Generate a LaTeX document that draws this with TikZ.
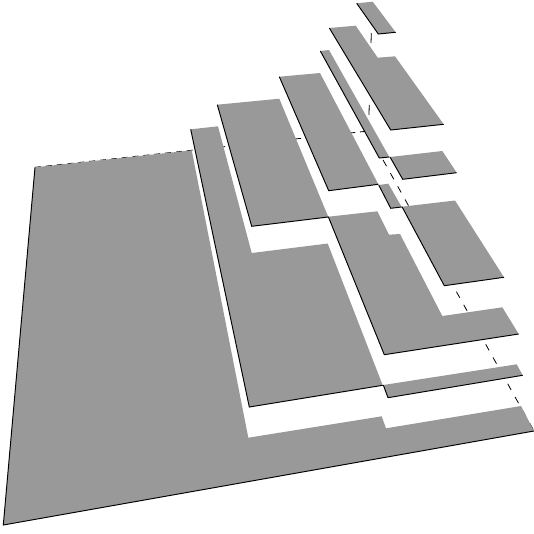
\documentclass[tikz,border=0pt]{standalone}
\usepackage{tikz}
\definecolor{slab}{HTML}{999999}
\begin{document}
\begin{tikzpicture}[
    x=1pt, y=-1pt,
    slab/.style={fill=slab, draw=none},
    edge/.style={black, line width=0.95pt},
    hidden/.style={black, line width=0.8pt}
]
\useasboundingbox (0,0) rectangle (534,533);

% back edges of the box
\draw[hidden, dash pattern=on 6pt off 4.9pt] (35,167.3) -- (368.5,131);
\draw[hidden, dash pattern=on 10pt off 14pt] (371.3,33) -- (368.5,131);
\draw[hidden, dash pattern=on 7pt off 8.07pt] (368.4,133.7) -- (534,431);

% floor
\fill[slab] (35,167.3) -- (191.7,150.3) -- (248.3,437.7) -- (381.7,416.3) -- (386,428.3) -- (521,406) -- (534,431) -- (3.3,525) -- cycle;
\draw[edge] (35,167.3) -- (3.3,525) -- (534,431);

% second level
\fill[slab] (190.7,129.3) -- (218,126.3) -- (251.7,253) -- (327.7,243.5) -- (382.7,385.3) -- (249.3,407) -- cycle;
\draw[edge] (190.7,129.3) -- (249.3,407) -- (382.7,385.3);
\fill[slab] (383.3,385) -- (516.7,364.3) -- (522.7,375.3) -- (388,397.7) -- cycle;
\draw[edge] (383.3,385) -- (388,397.7) -- (522.7,375.3);

% third level
\fill[slab] (217.3,104.7) -- (279.3,98.7) -- (328.3,217) -- (251.7,226.3) -- cycle;
\draw[edge] (217.3,104.7) -- (251.7,226.3) -- (328.3,217);
\fill[slab] (328.3,216.7) -- (377.3,211.3) -- (389,234.7) -- (400,234) -- (442.3,316) -- (502.3,307.3) -- (518.7,334) -- (384.3,354.7) -- cycle;
\draw[edge] (328.3,216.7) -- (384.3,354.7) -- (518.7,334);

% fourth level
\fill[slab] (279.3,76.7) -- (320,73) -- (378.3,184.3) -- (328.7,190.7) -- cycle;
\draw[edge] (279.3,76.7) -- (328.7,190.7) -- (378.3,184.3);
\fill[slab] (378.7,185) -- (388.3,183.7) -- (401.7,207) -- (390.7,208.3) -- cycle;
\draw[edge] (378.7,185) -- (390.7,208.3) -- (401.7,207);
\fill[slab] (402,206.7) -- (455,200.5) -- (504,277.3) -- (444.3,285.7) -- cycle;
\draw[edge] (402,206.7) -- (444.3,285.7) -- (504,277.3);

% fifth level
\fill[slab] (320.3,51) -- (329,50) -- (389.3,157) -- (379.3,158) -- cycle;
\draw[edge] (320.3,51) -- (379.3,158) -- (389.3,157);
\fill[slab] (390,157) -- (442.3,151) -- (456.7,172.7) -- (402.7,179.3) -- cycle;
\draw[edge] (390,157) -- (402.7,179.3) -- (456.7,172.7);

% top levels
\fill[slab] (329.3,28) -- (355.7,25.7) -- (377.7,57.7) -- (395,56.3) -- (443.7,124.3) -- (390.7,130) -- cycle;
\draw[edge] (329.3,28) -- (390.7,130) -- (443.7,124.3);
\fill[slab] (356.7,3.3) -- (372.7,1.7) -- (395.7,32.3) -- (378.3,34) -- cycle;
\draw[edge] (356.7,3.3) -- (378.3,34) -- (395.7,32.3);
\end{tikzpicture}
\end{document}
